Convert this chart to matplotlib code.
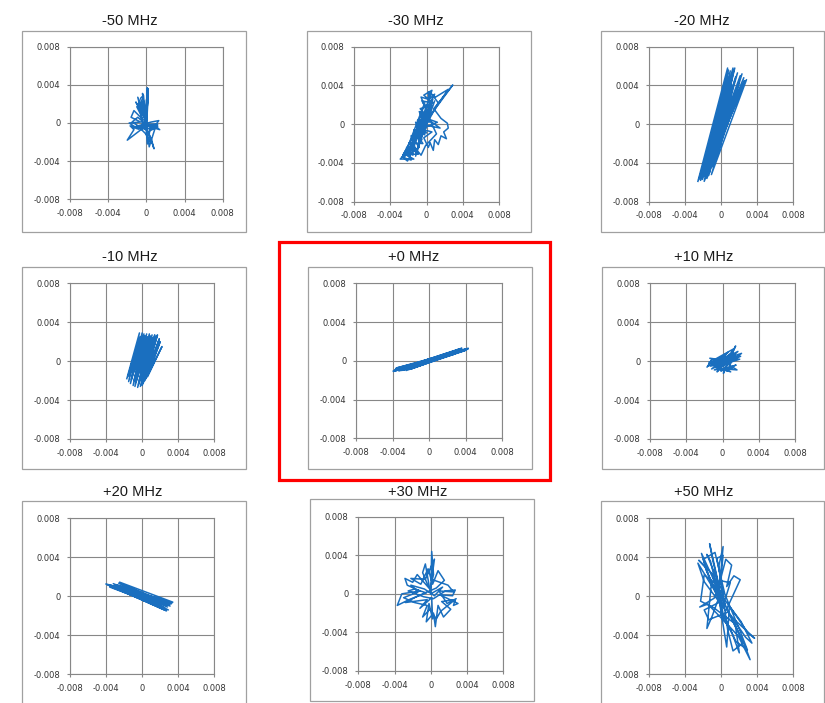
import matplotlib
matplotlib.use("Agg")
import matplotlib.pyplot as plt
from matplotlib.patches import Rectangle
import numpy as np

# ---------------- data (values in units of 1e-3) ----------------
titles = ["-50 MHz", "-30 MHz", "-20 MHz",
          "-10 MHz", "+0 MHz", "+10 MHz",
          "+20 MHz", "+30 MHz", "+50 MHz"]

tick_values = [-0.008, -0.004, 0.0, 0.004, 0.008]
tick_labels = ["-0.008", "-0.004", "0", "0.004", "0.008"]

trace_m50 = [(0.0, 0.0), (0.1, 3.7), (0.0, 1.0), (0.15, 3.4), (-0.1, 0.5), (-0.3, 2.9),
             (-0.6, 2.6), (-0.2, 1.2), (-0.9, 2.7), (-0.5, 1.1), (-0.7, 1.9), (-1.0, 1.7),
             (-0.3, 0.3), (-1.3, 1.3), (-1.6, 0.6), (-0.6, 0.1), (-1.8, 0.0), (-1.2, -0.4),
             (-0.2, -0.1), (0.5, 0.1), (1.3, 0.25), (0.9, -0.3), (1.4, -0.7), (0.4, -0.4),
             (0.3, -1.2), (0.8, -2.7), (0.5, -1.6), (0.1, -2.2), (0.0, -0.8), (-0.3, -0.5),
             (-2.0, -1.8), (-1.3, -0.7), (-1.7, -0.3), (-0.8, -0.6), (-0.1, 0.2), (0.0, 2.4),
             (0.2, 3.0), (0.05, 0.3), (-0.4, 2.2), (-0.2, 0.9), (-0.8, 2.3), (-0.4, -0.2),
             (1.1, -0.1), (0.6, -0.6), (1.2, -0.4), (0.2, -0.9), (0.6, -2.1), (0.2, -1.6),
             (-0.1, -1.1), (-1.0, -0.2), (-1.5, 0.1), (-0.9, 0.6), (-0.2, 0.0), (0.1, 1.8),
             (0.2, 3.6), (0.0, 0.0), (-0.6, 2.0), (0.1, 0.0), (-1.1, 2.2), (-0.1, 0.4),
             (-0.4, 3.1), (0.0, -0.3), (-1.4, -0.5), (1.2, -0.2), (-1.0, -0.6), (0.9, -0.6),
             (0.3, -2.5), (0.0, 0.0)]

trace_m30 = [(-2.7, -3.4), (-1.7, -3.7), (-2.2, -2.4), (-1.1, -2.9), (-1.7, -1.2), (-0.5, -1.6),
             (-1.2, 0.2), (0.0, -0.4), (-0.8, 1.3), (0.4, 0.8), (-0.5, 2.4), (0.7, 2.2),
             (-0.3, 3.0), (0.6, 3.5), (0.3, 2.6), (0.9, 3.1), (0.2, 1.9), (-0.7, 1.6),
             (0.3, 0.5), (-1.0, 0.4), (0.0, -0.9), (-1.4, -0.6), (-0.4, -2.0), (-1.9, -1.9),
             (-0.9, -3.1), (-2.4, -3.1), (-1.4, -3.6), (-2.9, -3.6), (-2.0, -2.7), (-1.5, -3.2),
             (-1.4, -1.6), (-0.8, -2.4), (-0.9, -0.3), (-0.2, -1.1), (-0.4, 1.0), (0.3, 0.2),
             (-0.1, 2.0), (0.5, 1.4), (0.2, 3.3), (1.0, 2.8), (2.4, 3.6), (0.5, 1.0),
             (2.9, 4.05), (0.8, 1.6), (1.6, 0.6), (2.3, 0.1), (2.4, -0.4), (1.9, -0.8),
             (2.2, -1.5), (1.6, -1.2), (1.3, -2.1), (0.9, -1.6), (0.75, -2.7), (0.4, -1.9),
             (0.2, -2.4), (-0.3, -1.4), (0.6, -0.8), (-0.6, -0.5), (1.2, 0.2), (0.0, 0.6),
             (1.5, -0.4), (-0.6, 0.0), (-1.8, -2.4), (-1.0, -1.2), (-2.5, -3.5), (-2.1, -3.8),
             (-1.3, -2.4), (-0.6, -3.2), (-0.1, -2.2), (1.1, -1.0), (0.4, 0.4), (-0.6, 2.8),
             (0.1, 2.6), (0.5, 3.2), (1.3, 2.2), (0.0, 0.0), (-2.3, -2.9), (-0.2, 2.2),
             (-2.0, -3.3), (0.4, 2.9), (-1.6, -2.8), (0.7, 2.6), (-1.2, -3.3), (-0.1, 1.2),
             (-2.6, -3.2), (0.3, 1.6), (-1.0, -2.6), (0.9, 2.4), (-0.4, -0.4), (-1.5, -2.0),
             (0.5, 2.2), (0.0, 0.0)]

trace_m20 = [(-2.6, -5.9), (0.7, 5.8), (-2.2, -5.5), (1.3, 5.8), (-1.8, -5.4), (2.3, 5.2),
             (-1.1, -5.2), (2.8, 4.6), (-1.5, -4.6), (1.0, 5.5), (-2.3, -5.8), (0.6, 5.0),
             (-1.3, -5.0), (1.8, 5.3), (-2.0, -5.2), (2.5, 4.8), (-0.8, -4.0), (1.1, 4.0),
             (-2.4, -5.6), (0.8, 5.6), (-1.7, -5.0), (1.6, 4.9), (-1.0, -4.4), (2.1, 5.0),
             (-2.1, -5.7), (0.9, 4.6), (-1.4, -5.3), (1.4, 5.6), (-0.6, -3.0), (2.6, 4.5),
             (-1.9, -5.9), (0.7, 5.3), (-1.2, -3.6), (1.2, 5.0), (-2.2, -5.0), (0.5, 4.4),
             (-1.6, -5.6), (2.0, 4.4), (-0.9, -3.4), (1.5, 5.8), (-2.5, -5.7)]

trace_m10 = [(-1.7, -1.8), (-0.3, 2.9), (-1.5, -2.1), (0.0, 2.9), (-1.3, -2.3), (0.2, 2.8),
             (-1.0, -2.5), (0.5, 2.8), (-0.8, -2.6), (0.8, 2.8), (-0.5, -2.7), (1.1, 2.7),
             (-0.2, -2.6), (1.4, 2.7), (0.0, -2.5), (1.7, 2.7), (0.3, -2.0), (2.0, 2.0),
             (0.6, -1.6), (2.2, 1.5), (0.4, -1.8), (1.9, 2.3), (0.1, -2.3), (1.5, 2.5),
             (-0.1, -2.0), (1.2, 2.4), (-0.4, -2.4), (0.9, 2.6), (-0.7, -2.2), (0.6, 2.5),
             (-0.9, -2.0), (0.3, 2.6), (-1.2, -1.9), (0.0, 2.6), (-1.4, -1.5), (-0.2, 2.5),
             (-1.6, -1.6), (-0.1, 1.8), (-1.2, -0.3), (0.3, 2.2), (-1.0, -1.2), (0.6, 2.0),
             (-0.6, -1.5), (1.0, 2.1), (-0.3, -1.9), (1.3, 1.8), (0.2, -1.4), (1.8, 1.6),
             (0.5, -1.0), (1.6, 1.2), (-0.2, -1.0), (0.7, 1.4), (-0.8, -0.8), (0.4, 1.6)]

trace_p0 = [(-3.9, -1.05), (4.3, 1.3), (-3.6, -0.75), (3.9, 1.05), (-2.5, -1.0), (3.4, 1.25),
            (-3.2, -0.8), (4.0, 1.2), (-2.8, -0.95), (3.0, 0.85), (-3.5, -0.95), (3.7, 1.15),
            (-2.2, -0.75), (2.5, 0.95), (-3.0, -1.0), (4.1, 1.1), (-3.7, -0.9), (3.2, 1.0),
            (-2.6, -0.8), (3.6, 1.3), (-3.3, -1.05), (2.8, 0.7), (-1.8, -0.7), (2.0, 0.8),
            (-3.8, -1.0), (4.2, 1.25), (-3.4, -0.85), (3.3, 1.1), (-2.9, -0.7), (2.2, 0.55),
            (-2.0, -0.85), (3.5, 1.05), (-3.9, -1.1), (4.3, 1.25), (-3.1, -0.9), (1.5, 0.6),
            (-1.2, -0.5)]

trace_p10 = [(-1.7, -0.6), (-1.2, 0.1), (-1.5, -0.3), (-0.6, 0.2), (-1.4, 0.3), (-0.3, -0.2),
             (-1.6, -0.5), (0.2, 0.2), (-1.2, -0.8), (0.5, 0.0), (-0.6, -1.1), (0.9, 0.5),
             (0.1, -1.25), (1.2, 1.1), (0.4, -0.6), (1.45, 1.56), (0.8, 0.4), (2.1, 0.8),
             (1.0, 0.0), (1.8, 0.6), (0.6, -0.3), (1.6, -0.9), (0.3, -0.8), (1.5, -0.4),
             (-0.2, -1.0), (1.1, -0.7), (-0.9, -0.9), (0.7, -0.2), (-1.3, -0.5), (0.3, 0.5),
             (-1.0, 0.1), (1.3, 1.3), (0.4, 0.2), (1.9, 0.2), (-0.4, -0.5), (1.0, 0.8),
             (-0.8, -0.2), (1.7, 1.0), (0.0, -0.5), (0.9, -1.1), (-0.5, -0.7), (1.3, 0.3),
             (-1.1, -0.3), (0.6, 0.9), (-0.3, 0.1), (2.0, 0.5), (0.2, -0.3), (-1.5, -0.1),
             (0.5, -1.0), (1.4, 0.7), (-0.7, -0.6)]

trace_p20 = [(-4.0, 1.26), (3.4, -0.6), (-2.5, 1.45), (2.7, -1.5), (-3.5, 1.1), (3.0, -0.9),
             (-2.9, 0.8), (2.4, -1.3), (-3.2, 1.3), (2.8, -1.1), (-2.2, 1.2), (3.2, -0.8),
             (-3.0, 0.95), (2.2, -0.5), (-2.6, 1.35), (2.9, -1.4), (-3.7, 1.2), (1.8, -0.3),
             (-2.0, 0.7), (2.6, -0.7), (-3.3, 0.9), (2.5, -1.2), (-2.4, 1.0), (3.3, -0.7),
             (-1.6, 0.7), (2.0, -1.0), (-2.8, 1.2), (3.1, -1.0), (-3.6, 0.95), (2.3, -1.1),
             (-2.3, 0.85), (1.5, -0.6), (-1.2, 0.4), (2.6, -1.45), (-3.9, 1.2)]

trace_p30 = [(0.0, 0.0), (0.1, 4.4), (0.3, 2.0), (-0.1, 0.4), (-0.6, 3.1), (-0.9, 2.2),
             (-0.2, 0.6), (-1.5, 2.0), (-2.0, 1.2), (-2.85, 1.6), (-2.6, 0.9), (-1.2, 0.3),
             (-3.2, 0.0), (-3.7, -1.2), (-2.4, -0.6), (-0.5, 0.1), (-1.8, 0.5), (-2.5, 0.3),
             (-0.8, -0.3), (0.3, -0.5), (1.6, 0.3), (2.7, 0.4), (2.4, -0.2), (1.0, -0.1),
             (3.0, -1.0), (2.5, -1.2), (2.7, -0.6), (1.2, -0.8), (2.2, -1.6), (1.4, -2.4),
             (0.8, -1.2), (0.5, -3.4), (0.3, -2.0), (-0.5, -2.9), (-0.2, -1.0), (0.2, -2.6),
             (0.1, -0.4), (-1.2, -1.5), (-0.4, -0.6), (-2.8, -0.9), (-1.6, -0.3), (0.6, 0.6),
             (1.5, 1.4), (0.8, 2.4), (0.2, 1.0), (-0.3, 2.6), (-1.1, 1.0), (-2.2, 1.6),
             (-0.6, 1.5), (0.4, 3.6), (0.1, 1.5), (1.9, 0.9), (2.5, 0.2), (0.9, 0.3),
             (1.8, -1.0), (2.8, -0.5), (1.1, -1.8), (0.6, -2.6), (-0.1, -1.6), (-0.9, -2.4),
             (-0.4, -1.2), (-1.8, -0.9), (-3.0, -0.4), (-1.4, 0.2), (-2.2, 0.9), (-0.7, 0.5),
             (0.4, -0.2), (1.3, 0.7), (0.0, 0.0)]

trace_p50 = [(0.0, 0.0), (-1.3, 5.4), (-0.9, 3.5), (-0.2, 0.8), (0.2, 5.1), (-0.3, 3.0),
             (0.4, -0.8), (-2.2, 4.4), (-1.6, 2.5), (0.3, -1.0), (-2.6, 3.4), (-1.9, 1.5),
             (0.5, -1.5), (2.1, 1.7), (1.4, 2.1), (0.6, 1.0), (1.15, 3.2), (0.5, 3.8),
             (-0.3, 1.0), (-0.8, -0.2), (-2.4, -1.1), (-1.5, -0.8), (0.8, -3.0), (1.9, -4.1),
             (3.2, -6.5), (2.6, -5.0), (1.0, -2.0), (3.7, -4.3), (3.0, -3.8), (0.9, -1.0),
             (0.6, -5.2), (0.3, -3.5), (-0.4, 0.5), (-1.2, 3.6), (-1.6, 4.3), (-0.6, 2.0),
             (0.2, -1.8), (1.6, -4.6), (2.9, -5.5), (2.1, -3.6), (0.4, 0.2), (-0.7, 4.5),
             (-2.0, 3.8), (-1.1, 1.3), (-1.6, -3.3), (-1.0, -2.0), (0.1, 0.8), (-1.9, 2.2),
             (-2.3, -0.5), (-0.8, -1.2), (1.5, -2.8), (2.4, -4.8), (1.3, -5.6), (0.7, -3.4),
             (-0.2, 2.6), (-0.5, 3.9), (0.2, 4.2), (-0.1, 1.6), (1.0, 1.4), (0.4, -0.4),
             (2.2, -2.6), (3.4, -4.8), (2.7, -4.2), (0.8, -1.6), (-1.4, -2.4), (-1.9, -1.4),
             (-0.2, -0.6), (-1.8, 3.0), (-2.5, 3.7), (-1.0, 2.3), (0.3, -2.4), (1.2, -3.8),
             (2.0, -5.8), (1.6, -3.2), (0.0, 0.0)]

traces = [trace_m50, trace_m30, trace_m20, trace_m10, trace_p0,
          trace_p10, trace_p20, trace_p30, trace_p50]

# ---------------- layout (pixel boxes in the 825x703 image) ----------------
W, H = 825, 703
axes_px = [(70, 46.7, 222.7, 199.3), (354, 46.7, 499, 201.7), (649.3, 46.7, 793.3, 201.7),
           (70, 283.3, 214.3, 439), (356, 283.3, 502, 438.3), (650, 283.3, 795, 439),
           (70, 518.3, 214.3, 674.3), (358.3, 516.7, 503.3, 671), (649.3, 518.3, 793.3, 674.3)]
frame_px = [(22, 31, 246, 232), (307, 31, 531, 232), (601, 31, 824, 232),
            (22, 267, 246, 469), (308, 267, 532, 469), (602, 267, 824, 469),
            (22, 501, 246, 712), (310, 499, 534, 701), (601, 501, 824, 712)]
title_px = [(130, 21), (416, 21), (702, 21),
            (130, 256.5), (414, 256.5), (704, 256.5),
            (133, 491.5), (418, 491.5), (704, 491.5)]

GRID = "#878787"
LINE = "#1a6fbf"

fig = plt.figure(figsize=(W / 100, H / 100), dpi=100)
fig.patch.set_facecolor("white")


def fx(x):
    return x / W


def fy(y):
    return 1 - y / H


for i in range(9):
    l, t, r, b = frame_px[i]
    fig.patches.append(Rectangle((fx(l), fy(b)), fx(r) - fx(l), fy(t) - fy(b),
                                 transform=fig.transFigure, fill=False,
                                 edgecolor="#a0a0a0", linewidth=0.9, zorder=0))
    tx, ty = title_px[i]
    fig.text(fx(tx), fy(ty), titles[i], ha="center", va="center",
             fontsize=10.5, family="Liberation Sans", color="#1a1a1a")

    l, t, r, b = axes_px[i]
    ax = fig.add_axes([fx(l), fy(b), fx(r) - fx(l), fy(t) - fy(b)])
    pts = np.array(traces[i]) * 1e-3
    ax.plot(pts[:, 0], pts[:, 1], color=LINE, linewidth=1.1, zorder=3,
            solid_joinstyle="round")
    ax.set_xlim(-0.008, 0.008)
    ax.set_ylim(-0.008, 0.008)
    ax.set_xticks(tick_values)
    ax.set_yticks(tick_values)
    ax.set_xticklabels(tick_labels)
    ax.set_yticklabels(tick_labels)
    ax.grid(True, color=GRID, linewidth=0.8, zorder=0)
    ax.set_axisbelow(True)
    for s in ax.spines.values():
        s.set_color(GRID)
        s.set_linewidth(0.8)
    ax.tick_params(direction="out", length=2.5, width=0.8, color=GRID,
                   labelsize=6, labelcolor="#333333", pad=4.5)
    for lab in ax.get_xticklabels() + ax.get_yticklabels():
        lab.set_family("DejaVu Sans")

# red highlight around centre panel
fig.patches.append(Rectangle((fx(279), fy(480)), fx(550) - fx(279), fy(242) - fy(480),
                             transform=fig.transFigure, fill=False,
                             edgecolor="#ff0000", linewidth=2.3, zorder=5))

fig.savefig("out.png", dpi=100, facecolor="white")
